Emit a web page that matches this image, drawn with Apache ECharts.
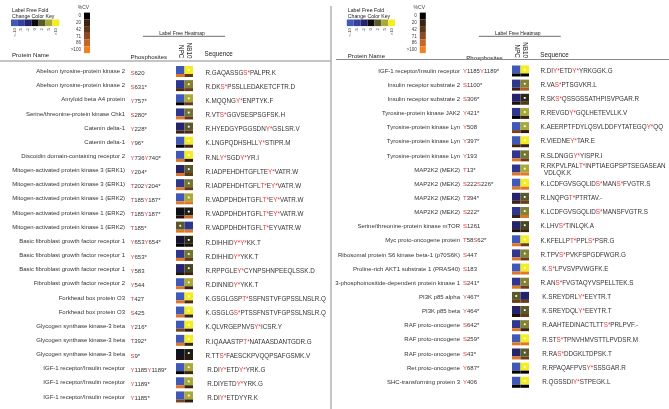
<!DOCTYPE html>
<html><head><meta charset="utf-8">
<script src="https://cdn.jsdelivr.net/npm/echarts@6/dist/echarts.min.js"></script>
<style>html,body{margin:0;padding:0;background:#fff}#c{width:669px;height:409px}</style>
</head><body><div id="c"></div>
<script>
// ---------- data ----------
const samples = ['NPC', 'NB10'];
const foldKeyLabels = ['<-10', '-5', '-2', '0', '2', '5', '>10'];
const foldStops = [-10, -5, -2, 0, 2, 5, 10];
const cvKeyLabels = ['0', '20', '42', '71', '86', '>100'];
const cvStops = [0, 20, 42, 71, 86, 100];

const leftProteins = [
  'Abelson tyrosine-protein kinase 2', 'Abelson tyrosine-protein kinase 2', 'Amyloid beta A4 protein',
  'Serine/threonine-protein kinase Chk1', 'Catenin delta-1', 'Catenin delta-1',
  'Discoidin domain-containing receptor 2', 'Mitogen-activated protein kinase 3 (ERK1)',
  'Mitogen-activated protein kinase 3 (ERK1)', 'Mitogen-activated protein kinase 1 (ERK2)',
  'Mitogen-activated protein kinase 1 (ERK2)', 'Mitogen-activated protein kinase 1 (ERK2)',
  'Basic fibroblast growth factor receptor 1', 'Basic fibroblast growth factor receptor 1',
  'Basic fibroblast growth factor receptor 1', 'Fibroblast growth factor receptor 2',
  'Forkhead box protein O3', 'Forkhead box protein O3', 'Glycogen synthase kinase-3 beta',
  'Glycogen synthase kinase-3 beta', 'Glycogen synthase kinase-3 beta',
  'IGF-1 receptor/Insulin receptor', 'IGF-1 receptor/Insulin receptor', 'IGF-1 receptor/Insulin receptor'
];
const leftSites = ['S620', 'S631*', 'Y757*', 'S280*', 'Y228*', 'Y96*', 'Y736Y740*', 'Y204*', 'T202Y204*',
  'T185Y187*', 'T185Y187*', 'T185*', 'Y653Y654*', 'Y653*', 'Y583', 'Y544', 'T427', 'S425', 'Y216*', 'T392*',
  'S9*', 'Y1185Y1189*', 'Y1189*', 'Y1185*'];
const leftSeqs = ['R.GAQASSGS*PALPR.K', 'R.DKS*PSSLLEDAKETCFTR.D', 'K.MQQNGY*ENPTYK.F', 'R.VTS*GGVSESPSGFSK.H',
  'R.HYEDGYPGGSDNY*GSLSR.V', 'K.LNGPQDHSHLLY*STIPR.M', 'R.NLY*SGDY*YR.I', 'R.IADPEHDHTGFLTEY*VATR.W',
  'R.IADPEHDHTGFLT*EY*VATR.W', 'R.VADPDHDHTGFLT*EY*VATR.W', 'R.VADPDHDHTGFLT*EY*VATR.W',
  'R.VADPDHDHTGFLT*EYVATR.W', 'R.DIHHIDY*Y*KK.T', 'R.DIHHIDY*YKK.T', 'R.RPPGLEY*CYNPSHNPEEQLSSK.D',
  'R.DINNIDY*YKK.T', 'K.GSGLGSPT*SSFNSTVFGPSSLNSLR.Q', 'K.GSGLGS*PTSSFNSTVFGPSSLNSLR.Q',
  'K.QLVRGEPNVSY*ICSR.Y', 'R.IQAAASTPT*NATAASDANTGDR.G', 'R.TTS*FAESCKPVQQPSAFGSMK.V',
  ' R.DIY*ETDY*YRK.G', ' R.DIYETDY*YRK.G', ' R.DIY*ETDYYR.K'];
const leftNPC  = [-10, -4, -10, -4, -2, -10, -10, -2, -4, -10, -0.3, 2, -0.8, -4, -2, -10, -10, -10, -10, -10, -0.5, -10, -10, -10];
const leftNB10 = [10, 3.5, 5, 3, 2, 10, 10, 2, 3, 5, 0.5, -4, 0.8, 3, 1.5, 5, 10, 10, 10, 10, 0.5, 5, 5, 5];
const leftNPCcv  = [95, 30, 0, 95, 20, 0, 95, 95, 95, 95, 10, 95, 0, 95, 10, 95, 95, 95, 60, 95, 10, 0, 95, 60];
const leftNB10cv = [45, 50, 45, 45, 30, 25, 15, 45, 45, 95, 90, 95, 10, 50, 20, 20, 30, 20, 15, 20, 15, 20, 20, 15];

const rightProteins = [
  'IGF-1 receptor/Insulin receptor', 'Insulin receptor substrate 2', 'Insulin receptor substrate 2',
  'Tyrosine-protein kinase JAK2', 'Tyrosine-protein kinase Lyn', 'Tyrosine-protein kinase Lyn',
  'Tyrosine-protein kinase Lyn', 'MAP2K2 (MEK2)', 'MAP2K2 (MEK2)', 'MAP2K2 (MEK2)', 'MAP2K2 (MEK2)',
  'Serine/threonine-protein kinase mTOR', 'Myc proto-oncogene protein',
  'Ribosomal protein S6 kinase beta-1 (p70S6K)', 'Proline-rich AKT1 substrate 1 (PRAS40)',
  '3-phosphoinositide-dependent protein kinase 1', 'PI3K p85 alpha', 'PI3K p85 beta',
  'RAF proto-oncogene', 'RAF proto-oncogene', 'RAF proto-oncogene', 'Ret proto-oncogene',
  'SHC-transforming protein 3'
];
const rightSites = ['Y1185Y1189*', 'S1100*', 'S306*', 'Y421*', 'Y508', 'Y397*', 'Y193', 'T13*', 'S222S226*',
  'T394*', 'S222*', 'S1261', 'T58S62*', 'S447', 'S183', 'S241*', 'Y467*', 'Y464*', 'S642*', 'S259*', 'S43*',
  'Y687*', 'Y406'];
const rightSeqs = ['R.DIY*ETDY*YRKGGK.G', 'R.VAS*PTSGVKR.L', 'R.SKS*QSSGSSATHPISVPGAR.R', 'R.REVGDY*GQLHETEVLLK.V',
  'K.AEERPTFDYLQSVLDDFYTATEGQY*QQ', 'R.VIEDNEY*TAR.E', 'R.SLDNGGY*YISPR.I',
  'R.RKPVLPALT*INPTIAEGPSPTSEGASEAN\n  VDLQK.K', 'K.LCDFGVSGQLIDS*MANS*FVGTR.S', 'R.LNQPGT*PTRTAV.-',
  'K.LCDFGVSGQLIDS*MANSFVGTR.S', 'K.LHVS*TINLQK.A', 'K.KFELLPT*PPLS*PSR.G', 'R.TPVS*PVKFSPGDFWGR.G',
  ' K.S*LPVSVPVWGFK.E', 'R.ANS*FVGTAQYVSPELLTEK.S', ' K.SREYDRLY*EEYTR.T', ' K.SREYDQLY*EEYTR.T',
  ' R.AAHTEDINACTLTTS*PRLPVF.-', ' R.STS*TPNVHMVSTTLPVDSR.M', ' R.RAS*DDGKLTDPSK.T',
  ' R.RPAQAFPVSY*SSSGAR.R', ' R.QGSSDIY*STPEGK.L'];
const rightNPC  = [-10, -4, -2, -4, -10, -10, -4, -4, -10, -2, -4, -2, -10, -4, -10, -4, 2, -2, -4, -10, -2, -10, -10];
const rightNB10 = [10, 3.5, 0.8, 5, 5, 10, 3, 5, 10, 2, 3.5, 1.5, 10, 3.5, 10, 3.5, -2, 2, 3.5, 10, 2, 10, 10];
const rightNPCcv  = [0, 20, 10, 0, 60, 20, 95, 95, 95, 20, 20, 10, 95, 95, 95, 95, 50, 10, 95, 95, 95, 0, 0];
const rightNB10cv = [0, 80, 40, 20, 15, 20, 50, 95, 95, 50, 95, 20, 50, 50, 95, 50, 50, 50, 20, 95, 50, 0, 0];

// ---------- styling ----------
const FONT = 'Liberation Sans, Arial, sans-serif';
const RED = '#e2393c';
const TXT = '#333';
const foldColors = ['#4059b8', '#34409e', '#25236a', '#0b0b0b', '#5a592b', '#a9aa36', '#f4ee1e'];
const cvColors = ['#000000', '#3c2310', '#5e3517', '#8d4b22', '#c4662a', '#f08022'];

function hex2rgb(h){ return [parseInt(h.substr(1,2),16), parseInt(h.substr(3,2),16), parseInt(h.substr(5,2),16)]; }
function interp(v, stops, cols){
  if (v <= stops[0]) return cols[0];
  if (v >= stops[stops.length-1]) return cols[cols.length-1];
  for (let i = 0; i < stops.length-1; i++){
    if (v >= stops[i] && v <= stops[i+1]){
      const t = (v - stops[i]) / (stops[i+1] - stops[i]);
      const a = hex2rgb(cols[i]), b = hex2rgb(cols[i+1]);
      return 'rgb(' + a.map((x,k)=>Math.round(x + (b[k]-x)*t)).join(',') + ')';
    }
  }
  return cols[0];
}

function siteRich(s){ return s.replace(/([A-Z])/g, '{r|$1}'); }
function seqRich(s){ return s.split('\n').map(l => l.replace(/([A-Z])\*/g, '{r|$1*}')).join('\n'); }

function buildData(npc, nb, npcCv, nbCv){
  const d = [];
  for (let i = 0; i < npc.length; i++){
    const up = npc[i] > nb[i] ? 0 : 1;
    d.push([0, i, npc[i], npcCv[i], up === 0 ? 1 : 0]);
    d.push([1, i, nb[i], nbCv[i], up === 1 ? 1 : 0]);
  }
  return d;
}

function renderCell(params, api){
  const c = api.coord([api.value(0), api.value(1)]);
  const sz = api.size([1, 1]);
  const w = sz[0], x = c[0] - w/2, top = c[1] - 5.5;
  const ch = [
    {type:'rect', shape:{x:x, y:top, width:w, height:8}, style:{fill: interp(api.value(2), foldStops, foldColors)}},
    {type:'rect', shape:{x:x, y:top+8, width:w, height:3}, style:{fill: interp(api.value(3), cvStops, cvColors)}}
  ];
  if (api.value(4)) ch.push({type:'rect', shape:{x:c[0]-0.9, y:top+3.2, width:1.8, height:1.8}, style:{fill:'#ffffff'}});
  return {type:'group', children: ch};
}

const rich = {r: {color: RED, fontSize: 6, fontFamily: FONT}};
const richSeq = {r: {color: RED, fontSize: 6.3, fontFamily: FONT, lineHeight: 7.2}};

function panel(gi, left, top, n, proteins, sites, seqs, nameMargin, siteMargin, seqMargin, padTop){
  const cats = proteins.map((_, i) => String(i));
  const base = {type:'category', gridIndex: gi, data: cats, inverse: true,
    axisLine:{show:false}, axisTick:{show:false}, splitLine:{show:false}};
  return {
    grid: {left: left, top: top, width: 17, height: n * 14.15},
    xAxis: {type:'category', gridIndex: gi, data: samples, position:'top',
      axisLine:{show:false}, axisTick:{show:false},
      axisLabel:{rotate: 90, margin: 6, fontSize: 6.3, color: '#222', fontFamily: FONT, interval: 0}},
    yAxis: [
      Object.assign({}, base, {position:'left', axisLabel:{interval:0, margin: nameMargin, fontSize: 6, color: TXT,
        fontFamily: FONT, align:'right', padding:[padTop,0,0,0], formatter: v => proteins[+v]}}),
      Object.assign({}, base, {position:'left', axisLabel:{interval:0, margin: siteMargin, fontSize: 6, color: TXT,
        fontFamily: FONT, align:'left', padding:[padTop,0,0,0], formatter: v => siteRich(sites[+v]), rich: rich}}),
      Object.assign({}, base, {position:'right', axisLabel:{interval:0, margin: seqMargin, fontSize: 6.3, color: TXT,
        fontFamily: FONT, align:'left', lineHeight: 7.2, padding:[padTop,0,0,0], formatter: v => seqRich(seqs[+v]), rich: richSeq}})
    ]
  };
}

const L = panel(0, 176, 64.4, leftProteins.length, leftProteins, leftSites, leftSeqs, 51, 45.5, 12.5, 3);
const R = panel(1, 512, 63.9, rightProteins.length, rightProteins, rightSites, rightSeqs, 52, 49, 11.5, 0);

// ---------- graphic (keys, headers, rules) ----------
const graphics = [];
function txt(x, y, s, size, opt){
  graphics.push(Object.assign({type:'text', x:x, y:y, style:Object.assign({text:s, fontSize:size, fontFamily:FONT,
    fill:'#222', verticalAlign:'middle', align:'left'}, (opt && opt.style) || {})}, opt && opt.rotation ? {rotation: opt.rotation} : {}));
}
function line(x1, y1, x2, y2, color, w){
  graphics.push({type:'line', shape:{x1:x1, y1:y1, x2:x2, y2:y2}, style:{stroke:color, lineWidth:w}});
}
function keysAndHeaders(ox, hy){
  txt(ox + 12, 11, 'Label Free Fold', 5.2);
  txt(ox + 12, 16.6, 'Change Color Key', 5.2);
  foldColors.forEach((c, i) => {
    graphics.push({type:'rect', shape:{x: ox + 11 + i*6.9, y: 19.5, width: 6.9, height: 6.6}, style:{fill:c}});
    txt(ox + 14.4 + i*6.9, 28, foldKeyLabels[i], 4.3, {rotation: Math.PI/2, style:{align:'right', fill:'#444'}});
  });
  txt(ox + 83.5, 7.5, '%CV', 5, {style:{align:'center', fill:'#444'}});
  cvColors.forEach((c, i) => {
    graphics.push({type:'rect', shape:{x: ox + 84, y: 12.6 + i*6.75, width: 6, height: 6.75}, style:{fill:c}});
    txt(ox + 81, 16 + i*6.75, cvKeyLabels[i], 4.6, {style:{align:'right', fill:'#444'}});
  });
  txt(ox + 182, 33.3, 'Label Free Heatmap', 5, {style:{align:'center'}});
  line(ox + 143, 36.3, ox + 225, 36.3, '#8a8a8a', 1.2);
  txt(ox + 12, hy, 'Protein Name', 6.1);
  txt(ox + 130.5, hy + 1.5, 'Phosphosites', 6.1);
  txt(ox + 204.5, hy - 1, 'Sequence', 6.3);
}
keysAndHeaders(0, 55.5);
keysAndHeaders(335.8, 56.5);
line(0, 61, 330.5, 61, '#8a8a8a', 1);
line(331, 6, 331, 409, '#8a8a8a', 1);
line(336, 59.5, 669, 59.5, '#8a8a8a', 1);

const chart = echarts.init(document.getElementById('c'), null, {renderer:'canvas'});
chart.setOption({
  animation: false,
  backgroundColor: '#ffffff',
  grid: [L.grid, R.grid],
  xAxis: [L.xAxis, R.xAxis],
  yAxis: L.yAxis.concat(R.yAxis),
  series: [
    {type:'custom', xAxisIndex:0, yAxisIndex:0, renderItem: renderCell, encode:{x:0, y:1},
      data: buildData(leftNPC, leftNB10, leftNPCcv, leftNB10cv)},
    {type:'custom', xAxisIndex:1, yAxisIndex:3, renderItem: renderCell, encode:{x:0, y:1},
      data: buildData(rightNPC, rightNB10, rightNPCcv, rightNB10cv)}
  ],
  graphic: graphics
});
</script></body></html>
